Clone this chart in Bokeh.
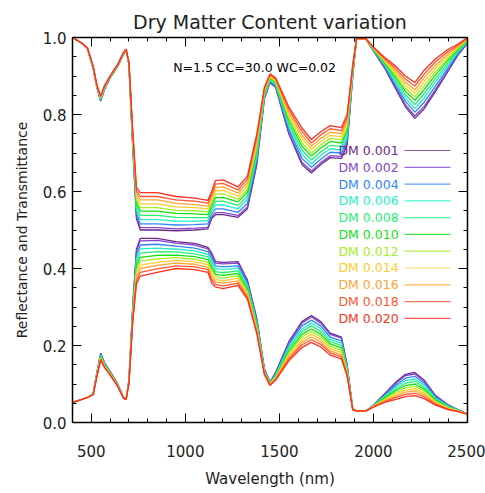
from bokeh.plotting import figure
from bokeh.models import Range1d, LinearAxis, FixedTicker, NumeralTickFormatter, Label
from bokeh.embed import file_html
from bokeh.resources import INLINE

WL = [400, 450, 480, 510, 530, 550, 570, 600, 640, 670, 685, 700,
      720, 740, 760, 850, 950, 1050, 1120, 1140, 1160, 1200, 1280, 1330,
      1380, 1420, 1450, 1480, 1550, 1620, 1670, 1720, 1770, 1830, 1860, 1890,
      1910, 1960, 2000, 2060, 2120, 2170, 2220, 2270, 2330, 2400, 2450, 2500]

# upper curves (1 - transmittance)
U_001 = [1.000, 0.985, 0.970, 0.920, 0.870, 0.835, 0.865, 0.895, 0.925, 0.955, 0.968, 0.930,
         0.720, 0.530, 0.500, 0.500, 0.498, 0.500, 0.503, 0.530, 0.540, 0.540, 0.533, 0.555,
         0.670, 0.840, 0.883, 0.870, 0.750, 0.670, 0.648, 0.670, 0.688, 0.686, 0.720, 0.900,
         0.995, 0.995, 0.965, 0.920, 0.865, 0.820, 0.790, 0.815, 0.860, 0.915, 0.955, 0.985]
U_002 = [1.000, 0.985, 0.970, 0.920, 0.870, 0.836, 0.866, 0.895, 0.925, 0.955, 0.968, 0.930,
         0.722, 0.535, 0.506, 0.506, 0.503, 0.505, 0.507, 0.534, 0.545, 0.545, 0.538, 0.560,
         0.675, 0.842, 0.884, 0.872, 0.754, 0.676, 0.653, 0.675, 0.693, 0.691, 0.725, 0.902,
         0.995, 0.995, 0.966, 0.922, 0.869, 0.825, 0.796, 0.821, 0.865, 0.918, 0.957, 0.986]
U_004 = [1.000, 0.985, 0.970, 0.921, 0.871, 0.837, 0.867, 0.896, 0.926, 0.956, 0.968, 0.931,
         0.727, 0.544, 0.516, 0.516, 0.513, 0.514, 0.516, 0.542, 0.555, 0.555, 0.546, 0.569,
         0.684, 0.845, 0.887, 0.874, 0.762, 0.686, 0.663, 0.684, 0.702, 0.700, 0.734, 0.905,
         0.995, 0.995, 0.967, 0.925, 0.875, 0.834, 0.806, 0.832, 0.874, 0.924, 0.960, 0.988]
U_006 = [1.000, 0.985, 0.971, 0.921, 0.872, 0.839, 0.868, 0.896, 0.926, 0.956, 0.969, 0.932,
         0.731, 0.552, 0.527, 0.527, 0.523, 0.523, 0.524, 0.550, 0.565, 0.565, 0.555, 0.579,
         0.692, 0.848, 0.889, 0.877, 0.770, 0.697, 0.672, 0.694, 0.711, 0.708, 0.742, 0.908,
         0.996, 0.996, 0.968, 0.928, 0.882, 0.842, 0.816, 0.843, 0.884, 0.930, 0.963, 0.989]
U_008 = [1.000, 0.985, 0.971, 0.922, 0.872, 0.840, 0.869, 0.897, 0.927, 0.957, 0.969, 0.932,
         0.736, 0.561, 0.538, 0.538, 0.533, 0.532, 0.532, 0.557, 0.574, 0.575, 0.564, 0.588,
         0.701, 0.852, 0.892, 0.880, 0.777, 0.707, 0.682, 0.703, 0.720, 0.717, 0.751, 0.912,
         0.996, 0.996, 0.969, 0.931, 0.888, 0.851, 0.826, 0.854, 0.893, 0.936, 0.966, 0.991]
U_010 = [1.000, 0.985, 0.971, 0.923, 0.873, 0.842, 0.870, 0.898, 0.928, 0.958, 0.969, 0.933,
         0.740, 0.570, 0.549, 0.549, 0.543, 0.542, 0.540, 0.565, 0.584, 0.585, 0.573, 0.598,
         0.710, 0.855, 0.895, 0.883, 0.785, 0.718, 0.692, 0.713, 0.730, 0.726, 0.760, 0.915,
         0.996, 0.996, 0.970, 0.934, 0.895, 0.860, 0.837, 0.865, 0.903, 0.943, 0.969, 0.993]
U_012 = [1.000, 0.985, 0.971, 0.923, 0.874, 0.843, 0.871, 0.898, 0.928, 0.958, 0.969, 0.934,
         0.744, 0.578, 0.558, 0.558, 0.551, 0.550, 0.547, 0.572, 0.593, 0.594, 0.580, 0.606,
         0.718, 0.858, 0.897, 0.885, 0.792, 0.727, 0.700, 0.721, 0.738, 0.734, 0.768, 0.918,
         0.996, 0.996, 0.971, 0.937, 0.901, 0.868, 0.846, 0.875, 0.911, 0.948, 0.972, 0.994]
U_014 = [1.000, 0.985, 0.971, 0.924, 0.874, 0.844, 0.872, 0.899, 0.929, 0.959, 0.969, 0.934,
         0.748, 0.586, 0.568, 0.568, 0.560, 0.558, 0.555, 0.579, 0.602, 0.603, 0.588, 0.615,
         0.726, 0.861, 0.899, 0.888, 0.799, 0.737, 0.709, 0.730, 0.746, 0.742, 0.776, 0.921,
         0.996, 0.996, 0.972, 0.940, 0.907, 0.876, 0.855, 0.885, 0.920, 0.954, 0.975, 0.996]
U_016 = [1.000, 0.985, 0.972, 0.924, 0.875, 0.845, 0.873, 0.899, 0.929, 0.959, 0.970, 0.935,
         0.752, 0.594, 0.578, 0.578, 0.569, 0.566, 0.562, 0.586, 0.610, 0.612, 0.596, 0.623,
         0.734, 0.864, 0.901, 0.890, 0.806, 0.746, 0.718, 0.738, 0.754, 0.750, 0.784, 0.924,
         0.997, 0.997, 0.973, 0.942, 0.913, 0.884, 0.864, 0.895, 0.928, 0.959, 0.977, 0.997]
U_018 = [1.000, 0.985, 0.972, 0.925, 0.875, 0.847, 0.874, 0.900, 0.930, 0.960, 0.970, 0.935,
         0.756, 0.602, 0.587, 0.587, 0.578, 0.575, 0.570, 0.593, 0.619, 0.621, 0.604, 0.632,
         0.742, 0.867, 0.904, 0.893, 0.813, 0.756, 0.726, 0.747, 0.763, 0.758, 0.792, 0.927,
         0.997, 0.997, 0.974, 0.945, 0.919, 0.892, 0.874, 0.905, 0.937, 0.965, 0.980, 0.999]
U_020 = [1.000, 0.985, 0.972, 0.925, 0.876, 0.848, 0.875, 0.900, 0.930, 0.960, 0.970, 0.936,
         0.760, 0.610, 0.597, 0.597, 0.587, 0.583, 0.577, 0.600, 0.628, 0.630, 0.612, 0.640,
         0.750, 0.870, 0.906, 0.895, 0.820, 0.765, 0.735, 0.755, 0.771, 0.766, 0.800, 0.930,
         0.997, 0.997, 0.975, 0.948, 0.925, 0.900, 0.883, 0.915, 0.945, 0.970, 0.983, 1.000]

# lower curves (reflectance)
R_001 = [0.052, 0.060, 0.065, 0.075, 0.130, 0.180, 0.155, 0.133, 0.100, 0.066, 0.060, 0.110,
         0.300, 0.450, 0.478, 0.478, 0.470, 0.465, 0.455, 0.440, 0.418, 0.416, 0.418, 0.370,
         0.270, 0.140, 0.105, 0.130, 0.210, 0.262, 0.278, 0.262, 0.232, 0.222, 0.150, 0.035,
         0.030, 0.030, 0.045, 0.075, 0.105, 0.125, 0.130, 0.110, 0.070, 0.045, 0.033, 0.022]
R_002 = [0.052, 0.060, 0.065, 0.075, 0.129, 0.179, 0.154, 0.132, 0.100, 0.066, 0.060, 0.109,
         0.298, 0.445, 0.472, 0.473, 0.466, 0.461, 0.451, 0.435, 0.414, 0.412, 0.414, 0.367,
         0.268, 0.139, 0.104, 0.129, 0.207, 0.258, 0.274, 0.258, 0.229, 0.219, 0.148, 0.035,
         0.030, 0.030, 0.045, 0.074, 0.102, 0.122, 0.126, 0.107, 0.069, 0.044, 0.033, 0.022]
R_004 = [0.052, 0.060, 0.065, 0.074, 0.128, 0.177, 0.153, 0.131, 0.099, 0.066, 0.060, 0.108,
         0.293, 0.435, 0.461, 0.463, 0.458, 0.453, 0.444, 0.427, 0.407, 0.404, 0.407, 0.362,
         0.263, 0.137, 0.103, 0.127, 0.202, 0.251, 0.266, 0.251, 0.222, 0.212, 0.145, 0.035,
         0.030, 0.030, 0.044, 0.071, 0.097, 0.115, 0.120, 0.102, 0.066, 0.043, 0.032, 0.022]
R_006 = [0.052, 0.060, 0.065, 0.074, 0.127, 0.175, 0.152, 0.130, 0.098, 0.065, 0.060, 0.107,
         0.289, 0.425, 0.451, 0.453, 0.450, 0.446, 0.437, 0.418, 0.400, 0.397, 0.401, 0.356,
         0.259, 0.136, 0.102, 0.124, 0.196, 0.243, 0.258, 0.244, 0.216, 0.206, 0.142, 0.034,
         0.030, 0.030, 0.044, 0.069, 0.092, 0.109, 0.113, 0.097, 0.063, 0.042, 0.032, 0.022]
R_008 = [0.052, 0.060, 0.065, 0.074, 0.126, 0.173, 0.150, 0.129, 0.098, 0.065, 0.060, 0.106,
         0.284, 0.415, 0.440, 0.444, 0.443, 0.438, 0.430, 0.410, 0.392, 0.389, 0.394, 0.351,
         0.254, 0.134, 0.101, 0.122, 0.191, 0.236, 0.251, 0.236, 0.210, 0.200, 0.138, 0.034,
         0.030, 0.030, 0.043, 0.066, 0.087, 0.102, 0.107, 0.091, 0.060, 0.040, 0.031, 0.022]
R_010 = [0.052, 0.060, 0.065, 0.074, 0.125, 0.171, 0.149, 0.128, 0.097, 0.065, 0.060, 0.105,
         0.280, 0.405, 0.429, 0.434, 0.435, 0.431, 0.423, 0.401, 0.385, 0.382, 0.387, 0.345,
         0.250, 0.133, 0.101, 0.120, 0.185, 0.229, 0.243, 0.229, 0.204, 0.194, 0.135, 0.034,
         0.030, 0.030, 0.043, 0.064, 0.083, 0.096, 0.100, 0.086, 0.058, 0.039, 0.031, 0.022]
R_012 = [0.052, 0.060, 0.065, 0.073, 0.124, 0.169, 0.148, 0.127, 0.096, 0.065, 0.060, 0.104,
         0.276, 0.396, 0.419, 0.425, 0.428, 0.424, 0.416, 0.393, 0.378, 0.375, 0.381, 0.340,
         0.246, 0.131, 0.100, 0.118, 0.180, 0.222, 0.236, 0.222, 0.198, 0.188, 0.132, 0.034,
         0.030, 0.030, 0.042, 0.061, 0.078, 0.090, 0.094, 0.081, 0.055, 0.038, 0.030, 0.022]
R_014 = [0.052, 0.060, 0.065, 0.073, 0.123, 0.167, 0.147, 0.126, 0.096, 0.065, 0.060, 0.103,
         0.272, 0.387, 0.409, 0.416, 0.421, 0.417, 0.410, 0.385, 0.372, 0.368, 0.375, 0.335,
         0.242, 0.130, 0.099, 0.116, 0.175, 0.215, 0.229, 0.216, 0.192, 0.182, 0.129, 0.034,
         0.030, 0.030, 0.042, 0.059, 0.074, 0.084, 0.088, 0.076, 0.053, 0.037, 0.030, 0.022]
R_016 = [0.052, 0.060, 0.065, 0.073, 0.122, 0.166, 0.145, 0.125, 0.095, 0.064, 0.060, 0.102,
         0.268, 0.378, 0.400, 0.408, 0.414, 0.411, 0.403, 0.378, 0.365, 0.362, 0.368, 0.330,
         0.238, 0.128, 0.098, 0.114, 0.170, 0.208, 0.222, 0.209, 0.186, 0.176, 0.126, 0.033,
         0.030, 0.030, 0.041, 0.057, 0.069, 0.079, 0.082, 0.072, 0.050, 0.035, 0.029, 0.022]
R_018 = [0.052, 0.060, 0.065, 0.072, 0.121, 0.164, 0.144, 0.124, 0.095, 0.064, 0.060, 0.101,
         0.264, 0.369, 0.390, 0.399, 0.407, 0.404, 0.397, 0.370, 0.359, 0.355, 0.362, 0.325,
         0.234, 0.127, 0.097, 0.112, 0.165, 0.202, 0.215, 0.203, 0.181, 0.171, 0.123, 0.033,
         0.030, 0.030, 0.041, 0.054, 0.065, 0.073, 0.076, 0.067, 0.048, 0.034, 0.029, 0.022]
R_020 = [0.052, 0.060, 0.065, 0.072, 0.120, 0.162, 0.143, 0.123, 0.094, 0.064, 0.060, 0.100,
         0.260, 0.360, 0.380, 0.390, 0.400, 0.397, 0.390, 0.362, 0.352, 0.348, 0.356, 0.320,
         0.230, 0.125, 0.096, 0.110, 0.160, 0.195, 0.208, 0.196, 0.175, 0.165, 0.120, 0.033,
         0.030, 0.030, 0.040, 0.052, 0.060, 0.067, 0.070, 0.062, 0.045, 0.033, 0.028, 0.022]

DM_LABELS = ["DM 0.001", "DM 0.002", "DM 0.004", "DM 0.006", "DM 0.008", "DM 0.010",
             "DM 0.012", "DM 0.014", "DM 0.016", "DM 0.018", "DM 0.020"]
UPPER = [U_001, U_002, U_004, U_006, U_008, U_010, U_012, U_014, U_016, U_018, U_020]
LOWER = [R_001, R_002, R_004, R_006, R_008, R_010, R_012, R_014, R_016, R_018, R_020]
COLORS = ["#6a2a8c", "#8444cc", "#2e86ff", "#1ef0c4", "#28ee72", "#12e012",
          "#a4ee22", "#ffcc30", "#ffa530", "#ff5532", "#ff3020"]

X_MAJOR = [500, 1000, 1500, 2000, 2500]
X_MINOR = list(range(400, 2501, 100))
Y_MAJOR = [0.0, 0.2, 0.4, 0.6, 0.8, 1.0]
Y_MINOR = [i * 0.05 for i in range(21)]

FONT = "DejaVu Sans"
TXT = "#222222"

p = figure(frame_width=395, frame_height=385,
           min_border_left=72, min_border_right=18, min_border_top=37, min_border_bottom=71,
           x_range=Range1d(400, 2500), y_range=Range1d(0, 1.0),
           output_backend="svg", toolbar_location=None,
           title="Dry Matter Content variation")
p.grid.visible = False
p.outline_line_color = None
p.background_fill_color = "white"
p.border_fill_color = "white"

p.title.text_font = FONT
p.title.text_font_size = "19px"
p.title.text_font_style = "normal"
p.title.text_color = TXT
p.title.align = "center"

bottom = p.below[0]
left = p.left[0]
bottom.ticker = FixedTicker(ticks=X_MAJOR, minor_ticks=X_MINOR)
bottom.axis_label = "Wavelength (nm)"
left.ticker = FixedTicker(ticks=Y_MAJOR, minor_ticks=Y_MINOR)
left.formatter = NumeralTickFormatter(format="0.0")
left.axis_label = "Reflectance and Transmittance"

top = LinearAxis(ticker=FixedTicker(ticks=X_MAJOR, minor_ticks=X_MINOR))
right = LinearAxis(ticker=FixedTicker(ticks=Y_MAJOR, minor_ticks=Y_MINOR))
p.add_layout(top, "above")
p.add_layout(right, "right")

for ax in [bottom, left, top, right]:
    ax.axis_line_color = "black"
    ax.axis_line_width = 1.5
    ax.major_tick_in = 9
    ax.major_tick_out = 0
    ax.minor_tick_in = 4
    ax.minor_tick_out = 0
    ax.major_tick_line_color = "black"
    ax.minor_tick_line_color = "black"
    ax.major_label_text_font = FONT
    ax.major_label_text_font_size = "15px"
    ax.major_label_text_color = TXT
    ax.axis_label_text_font = FONT
    ax.axis_label_text_font_size = "15px"
    ax.axis_label_text_font_style = "normal"
    ax.axis_label_text_color = TXT

for ax in [top, right]:
    ax.major_label_text_font_size = "0px"
    ax.major_label_standoff = 0

bottom.major_label_standoff = 22
bottom.axis_label_standoff = 10
left.major_label_standoff = 6
left.axis_label_standoff = 10
left.axis_label_text_font_size = "14px"

for u, r, c in zip(UPPER, LOWER, COLORS):
    p.line(WL, u, line_color=c, line_width=1.3)
    p.line(WL, r, line_color=c, line_width=1.3)

p.add_layout(Label(x=1368, y=0.922, text="N=1.5 CC=30.0 WC=0.02", text_font=FONT,
                   text_font_size="12.5px", text_color="black", text_align="center",
                   text_baseline="middle"))

LEG_X_TEXT = 1814
LEG_X0, LEG_X1 = 2165, 2410
LEG_Y0, LEG_DY = 0.7065, 0.0436
for i, (lab, c) in enumerate(zip(DM_LABELS, COLORS)):
    yy = LEG_Y0 - LEG_DY * i
    p.add_layout(Label(x=LEG_X_TEXT, y=yy, text=lab, text_font=FONT, text_font_size="12.5px",
                       text_color=c, text_align="left", text_baseline="middle"))
    p.line([LEG_X0, LEG_X1], [yy, yy], line_color=c, line_width=1.2, line_alpha=0.8)

open("out.html", "w").write(file_html(p, INLINE))
